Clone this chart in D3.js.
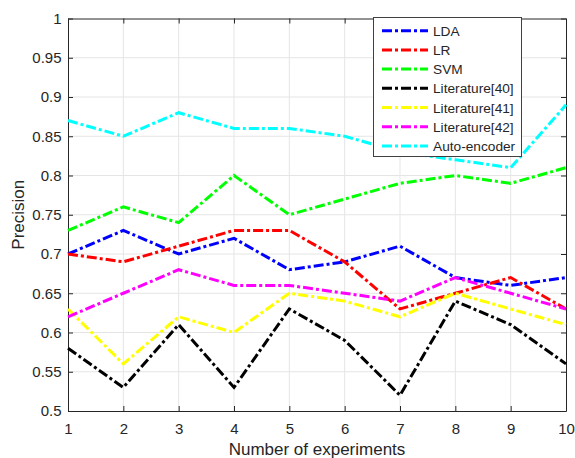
<!DOCTYPE html>
<html>
<head>
<meta charset="utf-8">
<script src="https://cdn.jsdelivr.net/npm/d3@7"></script>
<style>
  html, body { margin: 0; padding: 0; background: #fff; }
  svg { display: block; font-family: "Liberation Sans", Arial, Helvetica, sans-serif; }
</style>
</head>
<body>
<svg id="chart" width="575" height="458"></svg>
<script>
// Experiment indices along the x axis
const experiments = [1, 2, 3, 4, 5, 6, 7, 8, 9, 10];

// Precision per method for each experiment
const lda    = [0.70, 0.73, 0.70, 0.72, 0.68, 0.69, 0.71, 0.67, 0.66, 0.67];
const lr     = [0.70, 0.69, 0.71, 0.73, 0.73, 0.69, 0.63, 0.65, 0.67, 0.63];
const svm    = [0.73, 0.76, 0.74, 0.80, 0.75, 0.77, 0.79, 0.80, 0.79, 0.81];
const lit40  = [0.58, 0.53, 0.61, 0.53, 0.63, 0.59, 0.52, 0.64, 0.61, 0.56];
const lit41  = [0.63, 0.56, 0.62, 0.60, 0.65, 0.64, 0.62, 0.65, 0.63, 0.61];
const lit42  = [0.62, 0.65, 0.68, 0.66, 0.66, 0.65, 0.64, 0.67, 0.65, 0.63];
const auto   = [0.87, 0.85, 0.88, 0.86, 0.86, 0.85, 0.83, 0.82, 0.81, 0.89];

const seriesNames  = ["LDA", "LR", "SVM", "Literature[40]", "Literature[41]", "Literature[42]", "Auto-encoder"];
const seriesValues = [lda, lr, svm, lit40, lit41, lit42, auto];
const seriesColors = ["#0000ff", "#ff0000", "#00ff00", "#000000", "#ffff00", "#ff00ff", "#00ffff"];

const yTicks = [0.5, 0.55, 0.6, 0.65, 0.7, 0.75, 0.8, 0.85, 0.9, 0.95, 1];

const svg = d3.select("#chart");
const plot = { left: 68, right: 566, top: 18.5, bottom: 411 };
const ink = "#262626";

const x = d3.scaleLinear().domain([1, 10]).range([plot.left, plot.right]);
const y = d3.scaleLinear().domain([0.5, 1]).range([plot.bottom, plot.top]);

// grid
const grid = svg.append("g").attr("stroke", "#e5e5e5").attr("stroke-width", 1);
grid.selectAll("line.gx").data(experiments.slice(1, -1)).join("line")
  .attr("x1", d => x(d)).attr("x2", d => x(d))
  .attr("y1", plot.top).attr("y2", plot.bottom);
grid.selectAll("line.gy").data(yTicks.slice(1, -1)).join("line")
  .attr("x1", plot.left).attr("x2", plot.right)
  .attr("y1", d => y(d)).attr("y2", d => y(d));

// axes (ticks point inward, box on all four sides)
const fmtY = d => d3.format(".2~f")(d);
const tickLen = 5;
const axisStyle = g => {
  g.select(".domain").attr("stroke", ink);
  g.selectAll(".tick line").attr("stroke", ink);
  g.selectAll(".tick text").attr("fill", ink).attr("font-size", 15);
};

svg.append("g").attr("transform", `translate(0,${plot.bottom})`)
  .call(d3.axisBottom(x).tickValues(experiments).tickSizeInner(-tickLen).tickSizeOuter(0).tickPadding(12).tickFormat(d3.format("d")))
  .call(axisStyle);
svg.append("g").attr("transform", `translate(0,${plot.top})`)
  .call(d3.axisTop(x).tickValues(experiments).tickSizeInner(-tickLen).tickSizeOuter(0).tickFormat(""))
  .call(axisStyle);
svg.append("g").attr("transform", `translate(${plot.left},0)`)
  .call(d3.axisLeft(y).tickValues(yTicks).tickSizeInner(-tickLen).tickSizeOuter(0).tickPadding(6.5).tickFormat(fmtY))
  .call(axisStyle);
svg.append("g").attr("transform", `translate(${plot.right},0)`)
  .call(d3.axisRight(y).tickValues(yTicks).tickSizeInner(-tickLen).tickSizeOuter(0).tickFormat(""))
  .call(axisStyle);

// series lines
const line = d3.line().x((d, i) => x(experiments[i])).y(d => y(d));
const dash = "10,3,3,3";
const lines = svg.append("g");
seriesValues.forEach((vals, k) => {
  lines.append("path")
    .datum(vals)
    .attr("d", line)
    .attr("fill", "none")
    .attr("stroke", seriesColors[k])
    .attr("stroke-width", 3)
    .attr("stroke-dasharray", dash);
});

// axis titles
svg.append("text")
  .attr("x", (plot.left + plot.right) / 2).attr("y", 455)
  .attr("text-anchor", "middle").attr("font-size", 17).attr("fill", ink)
  .text("Number of experiments");
svg.append("text")
  .attr("transform", `translate(24,${(plot.top + plot.bottom) / 2}) rotate(-90)`)
  .attr("text-anchor", "middle").attr("font-size", 17).attr("fill", ink)
  .text("Precision");

// legend
const lg = { x: 373.5, y: 17.5, w: 148, h: 139, row: 19.2 };
const legend = svg.append("g");
legend.append("rect")
  .attr("x", lg.x).attr("y", lg.y).attr("width", lg.w).attr("height", lg.h)
  .attr("fill", "#fff").attr("stroke", "#404040").attr("stroke-width", 1);
seriesNames.forEach((name, k) => {
  const cy = 30.7 + k * lg.row;
  legend.append("line")
    .attr("x1", 382).attr("x2", 428).attr("y1", cy).attr("y2", cy)
    .attr("stroke", seriesColors[k]).attr("stroke-width", 3)
    .attr("stroke-dasharray", dash);
  legend.append("text")
    .attr("x", 433).attr("y", cy + 5)
    .attr("font-size", 13.7).attr("fill", ink)
    .text(name);
});
</script>
</body>
</html>
